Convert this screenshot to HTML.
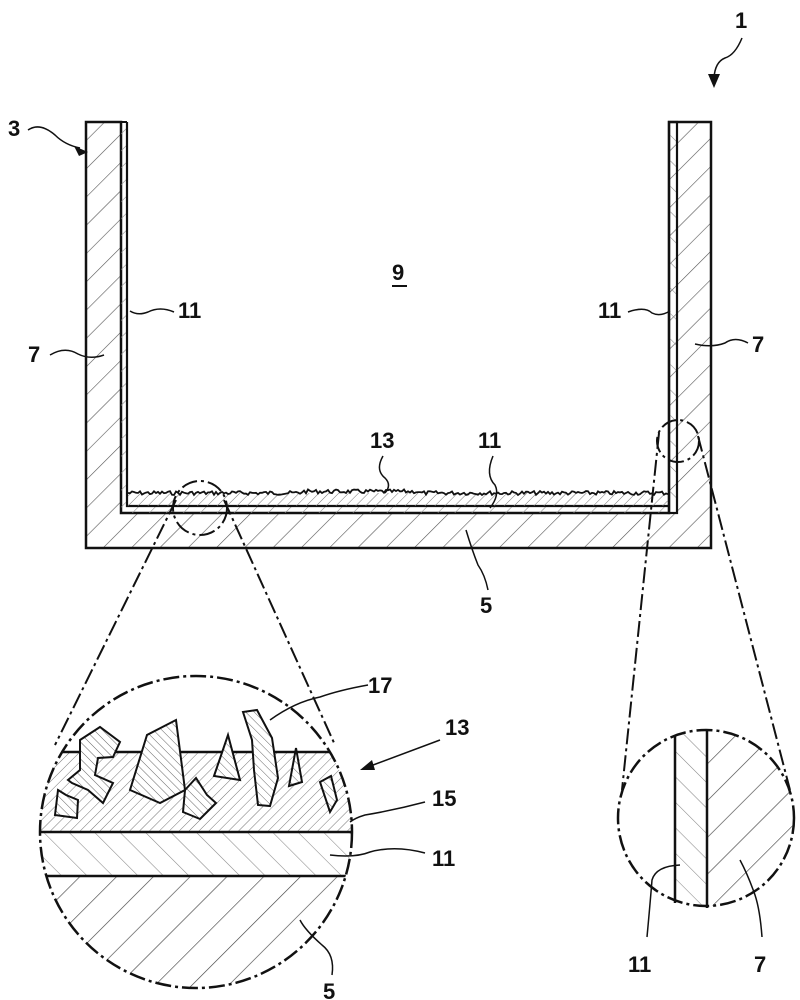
<!DOCTYPE html>
<html><head><style>
html,body{margin:0;padding:0;background:#fff;width:800px;height:1000px;overflow:hidden}
svg text{font-family:"Liberation Sans",sans-serif;font-weight:bold;font-size:22px;fill:#111}
</style></head><body>
<svg width="800" height="1000" viewBox="0 0 800 1000" xmlns="http://www.w3.org/2000/svg">
<defs>
<pattern id="h1" patternUnits="userSpaceOnUse" width="20" height="20" patternTransform="rotate(45)">
<line x1="0" y1="0" x2="0" y2="20" stroke="#555" stroke-width="1.2"/></pattern>
<pattern id="hf" patternUnits="userSpaceOnUse" width="7" height="7" patternTransform="rotate(45)">
<line x1="0" y1="0" x2="0" y2="7" stroke="#777" stroke-width="1"/></pattern>
<pattern id="hb" patternUnits="userSpaceOnUse" width="26" height="26" patternTransform="rotate(45)">
<line x1="0" y1="0" x2="0" y2="26" stroke="#444" stroke-width="1.3"/></pattern>
<pattern id="hm" patternUnits="userSpaceOnUse" width="12" height="12" patternTransform="rotate(45)">
<line x1="0" y1="0" x2="0" y2="12" stroke="#888" stroke-width="1.1"/></pattern>
<pattern id="hr" patternUnits="userSpaceOnUse" width="18" height="18" patternTransform="rotate(-45)">
<line x1="0" y1="0" x2="0" y2="18" stroke="#888" stroke-width="1.1"/></pattern>
<pattern id="hs" patternUnits="userSpaceOnUse" width="6" height="6" patternTransform="rotate(-45)">
<line x1="0" y1="0" x2="0" y2="6" stroke="#666" stroke-width="1"/></pattern>
<clipPath id="cl"><circle cx="196" cy="832" r="156"/></clipPath>
<clipPath id="cr"><circle cx="706" cy="818" r="88"/></clipPath>
</defs>

<!-- container -->
<path d="M86 122 H121 V513 H669 V122 H711 V548 H86 Z" fill="url(#h1)" stroke="#111" stroke-width="2.5"/>
<path d="M121 122 H127 V506 H669 V513 H121 Z" fill="url(#hm)" stroke="none"/>
<path d="M127 122 V506 H669" fill="none" stroke="#111" stroke-width="2.2"/>
<rect x="669" y="122" width="8" height="391" fill="url(#hr)" stroke="#111" stroke-width="2.2"/>
<line x1="121" y1="122" x2="127" y2="122" stroke="#111" stroke-width="2"/>
<!-- rough layer 13 -->
<rect x="128" y="493" width="540" height="13" fill="url(#hf)"/>
<polyline id="rough" fill="none" stroke="#111" stroke-width="1.8" points="128,494 668,494"/>

<!-- detail circles & dash-dot lines -->
<g fill="none" stroke="#111" stroke-width="2" stroke-dasharray="16,4,3,4">
<circle cx="200" cy="508" r="27"/>
<circle cx="678" cy="441" r="21"/>
<line x1="176" y1="500" x2="55" y2="745"/>
<line x1="224" y1="500" x2="335" y2="745"/>
<line x1="659" y1="433" x2="622" y2="790"/>
<line x1="698" y1="436" x2="790" y2="790"/>
</g>

<!-- left big detail -->
<g clip-path="url(#cl)">
<rect x="30" y="876" width="340" height="120" fill="url(#hb)"/>
<rect x="30" y="832" width="340" height="44" fill="url(#hr)"/>
<rect x="30" y="752" width="340" height="80" fill="url(#hf)"/>
<line x1="30" y1="832" x2="370" y2="832" stroke="#111" stroke-width="2.5"/>
<line x1="30" y1="876" x2="370" y2="876" stroke="#111" stroke-width="2.5"/>
<line x1="30" y1="752" x2="370" y2="752" stroke="#111" stroke-width="2.5"/>
<g fill="#fff" stroke="none">
<polygon points="80,740 100,727 120,742 113,757 98,758 95,775 113,783 103,803 88,790 72,783 68,780 80,770"/>
<polygon points="130,790 147,735 176,720 185,790 160,803"/>
<polygon points="58,790 66,795 78,800 77,818 55,815"/>
<polygon points="185,790 196,778 207,795 216,803 200,819 183,812"/>
<polygon points="214,776 228,735 240,780"/>
<polygon points="243,712 257,710 272,738 278,778 270,806 258,805 254,770 252,740"/>
<polygon points="289,786 296,748 302,782"/>
<polygon points="320,782 331,776 337,800 330,812"/>
</g>
<g fill="url(#hs)" stroke="#111" stroke-width="2">
<polygon points="80,740 100,727 120,742 113,757 98,758 95,775 113,783 103,803 88,790 72,783 68,780 80,770"/>
<polygon points="130,790 147,735 176,720 185,790 160,803"/>
<polygon points="58,790 66,795 78,800 77,818 55,815"/>
<polygon points="185,790 196,778 207,795 216,803 200,819 183,812"/>
<polygon points="214,776 228,735 240,780"/>
<polygon points="243,712 257,710 272,738 278,778 270,806 258,805 254,770 252,740"/>
<polygon points="289,786 296,748 302,782"/>
<polygon points="320,782 331,776 337,800 330,812"/>
</g>
</g>
<circle cx="196" cy="832" r="156" fill="none" stroke="#111" stroke-width="2.5" stroke-dasharray="16,4,3,4"/>

<!-- right big detail -->
<g clip-path="url(#cr)">
<rect x="675" y="720" width="32" height="200" fill="url(#hr)"/>
<rect x="707" y="720" width="100" height="200" fill="url(#hb)"/>
</g>
<line x1="675" y1="735" x2="675" y2="903" stroke="#111" stroke-width="2.5"/>
<line x1="707" y1="730" x2="707" y2="908" stroke="#111" stroke-width="2.5"/>
<circle cx="706" cy="818" r="88" fill="none" stroke="#111" stroke-width="2.5" stroke-dasharray="16,4,3,4"/>

<!-- leaders -->
<g fill="none" stroke="#111" stroke-width="1.5">
<path d="M742 38 Q735 55 725 58 Q715 62 714 78"/>
<path d="M28 130 Q40 122 55 135 Q65 145 80 148"/>
<path d="M174 312 Q160 306 148 312 Q138 316 130 311"/>
<path d="M50 355 Q65 346 78 354 Q90 360 104 355"/>
<path d="M628 312 Q645 306 652 313 Q660 317 670 311"/>
<path d="M748 343 Q735 336 725 343 Q712 348 695 344"/>
<path d="M383 456 Q375 470 385 478 Q392 485 385 493"/>
<path d="M493 456 Q485 475 495 485 Q500 495 490 508"/>
<path d="M488 590 Q485 575 478 565 Q472 550 466 530"/>
<path d="M368 685 Q340 690 320 697 Q295 702 270 720"/>
<path d="M425 802 Q395 810 365 815 Q355 818 350 822"/>
<path d="M425 853 Q395 845 370 852 Q355 858 330 855"/>
<path d="M332 975 Q335 955 322 945 Q305 930 300 920"/>
<path d="M647 937 Q650 905 652 880 Q656 866 680 865"/>
<path d="M762 937 Q760 910 755 895 Q748 875 740 860"/>
<path d="M440 740 L365 768"/>
</g>
<polygon points="714,88 708,74 720,74" fill="#111"/>
<polygon points="88,152 74,146 79,156" fill="#111"/>
<polygon points="360,770 372,760 375,770" fill="#111"/>

<!-- labels -->
<text x="735" y="28">1</text>
<text x="8" y="136">3</text>
<text x="392" y="280">9</text>
<line x1="392" y1="286" x2="407" y2="286" stroke="#111" stroke-width="2"/>
<text x="178" y="318">11</text>
<text x="28" y="362">7</text>
<text x="598" y="318">11</text>
<text x="752" y="352">7</text>
<text x="370" y="448">13</text>
<text x="478" y="448">11</text>
<text x="480" y="613">5</text>
<text x="368" y="693">17</text>
<text x="445" y="735">13</text>
<text x="432" y="806">15</text>
<text x="432" y="866">11</text>
<text x="323" y="999">5</text>
<text x="628" y="972">11</text>
<text x="754" y="972">7</text>
</svg>
<script>
(function(){var p=[],s=7;function r(){s=(s*9301+49297)%233280;return s/233280;}
for(var x=128;x<=668;x+=2){var y=493+(r()-0.5)*4-(x>300&&x<420?1.5:0);p.push(x+","+y.toFixed(1));}
document.getElementById("rough").setAttribute("points",p.join(" "));})();
</script>
</body></html>
